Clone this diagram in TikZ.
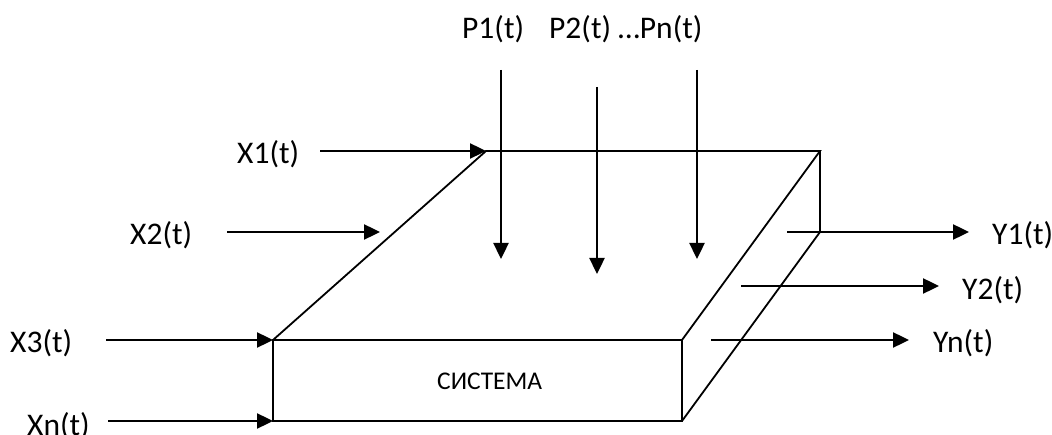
\documentclass[tikz,border=0pt]{standalone}
\usepackage{fontspec}
\setmainfont{Carlito}
\usetikzlibrary{arrows.meta}
\begin{document}
\begin{tikzpicture}[x=1pt,y=-1pt,
  edge/.style={line width=1.8pt,line join=miter},
  flow/.style={line width=2.4pt,-{Triangle[length=16pt,width=15pt]}},
  lbl/.style={anchor=base west,inner sep=0pt,font=\fontsize{31.5}{36}\selectfont},
  title/.style={anchor=base west,inner sep=0pt,font=\fontsize{25.5}{30}\selectfont}]
\useasboundingbox (0,0) rectangle (1052,435);
\clip (0,0) rectangle (1052,435);
% box corners
\coordinate (A) at (273,340);
\coordinate (B) at (682,340);
\coordinate (C) at (682,421);
\coordinate (D) at (273,421);
\coordinate (E) at (486,151);
\coordinate (F) at (820,151);
\coordinate (G) at (820,232);
% box
\draw[edge] (A) -- (B) -- (C) -- (D) -- cycle;
\draw[edge] (A) -- (E) -- (F) -- (B);
\draw[edge] (F) -- (G) -- (C);
\node[title] (sys) at (437,389) {СИСТЕМА};
% input arrows
\coordinate (x1s) at (320,151);
\coordinate (x2s) at (227,232); \coordinate (x2e) at (380,232);
\coordinate (x3s) at (106,340);
\coordinate (xns) at (108,421);
\draw[flow] (x1s) -- (E);
\draw[flow] (x2s) -- (x2e);
\draw[flow] (x3s) -- (A);
\draw[flow] (xns) -- (D);
\node[lbl] (x1) at (237,164) {X1(t)};
\node[lbl] (x2) at (130,245) {X2(t)};
\node[lbl] (x3) at (10,353) {X3(t)};
\node[lbl] (xn) at (27,435) {Xn(t)};
% disturbance arrows
\coordinate (p1s) at (501,70);  \coordinate (p1e) at (501,259);
\coordinate (p2s) at (597,87);  \coordinate (p2e) at (597,274);
\coordinate (pns) at (697,70);  \coordinate (pne) at (697,259);
\draw[flow] (p1s) -- (p1e);
\draw[flow] (p2s) -- (p2e);
\draw[flow] (pns) -- (pne);
\node[lbl] (p1) at (462,39) {P1(t)};
\node[lbl] (p2) at (549,39) {P2(t) …Pn(t)};
% output arrows
\coordinate (y1s) at (787,232); \coordinate (y1e) at (969,232);
\coordinate (y2s) at (741,286); \coordinate (y2e) at (939,286);
\coordinate (yns) at (711,340); \coordinate (yne) at (909,340);
\draw[flow] (y1s) -- (y1e);
\draw[flow] (y2s) -- (y2e);
\draw[flow] (yns) -- (yne);
\node[lbl] (y1) at (992,245) {Y1(t)};
\node[lbl] (y2) at (962,300) {Y2(t)};
\node[lbl] (yn) at (933,353) {Yn(t)};
\end{tikzpicture}
\end{document}
